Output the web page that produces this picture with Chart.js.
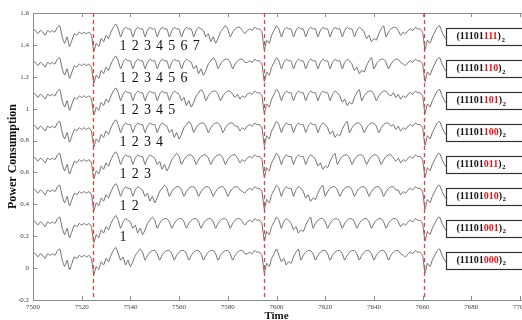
<!DOCTYPE html>
<html>

<head>
  <title>Power Consumption</title>
  <meta content="text/html;charset=utf-8" http-equiv="Content-Type">
  <script src="https://cdn.jsdelivr.net/npm/chart.js"></script>
  <style>
    html, body { margin: 0; padding: 0; overflow: hidden; background: #fff; }
    #wrap { width: 540px; height: 320px; }
  </style>
</head>

<body>
  <div id="wrap"><canvas id="myChart"></canvas></div>

  <script>
    // one sample per time unit, starting at 7500
    const startTime = 7500;
    const xTicks = [7500, 7520, 7540, 7560, 7580, 7600, 7620, 7640, 7660, 7680, 7700];
    const yTicks = [-0.2, 0, 0.2, 0.4, 0.6, 0.8, 1, 1.2, 1.4, 1.6];

    // same for every trace, 7500-7534
    const headShape = [
      0.10, 0.09, 0.07, 0.09, 0.08, 0.06, 0.09, 0.08, 0.09, 0.08,
      0.11, 0.12, 0.05, 0.01, 0.05, -0.01, 0.03, 0.07, 0.06, 0.08,
      0.07, 0.08, 0.07, 0.08, 0.06, -0.04, 0.01, -0.01, 0.04, 0.02,
      0.06, 0.04, 0.08, 0.11, 0.13
    ];
    // same for every trace, 7661-7670
    const tailShape = [-0.03, 0.03, 0.01, 0.05, 0.08, 0.11, 0.12, 0.08, 0.05, 0.03];

    // 7535-7660 for each key guess
    const body000 = [
      0.09, 0.05, 0.07, 0.02, 0.05, 0.01, 0.04, 0.08, 0.10, 0.12, 0.10,
      0.05, 0.08, 0.10, 0.11, 0.11, 0.09,
      0.05, 0.08, 0.10, 0.11, 0.11, 0.09,
      0.05, 0.08, 0.10, 0.11, 0.11, 0.09,
      0.05, 0.08, 0.10, 0.11, 0.11, 0.09,
      0.05, 0.08, 0.10, 0.11, 0.11, 0.09,
      0.05, 0.08, 0.10, 0.11, 0.11, 0.09,
      0.05, 0.08, 0.10, 0.11, 0.11, 0.09,
      0.09, 0.10, 0.09, 0.11, 0.10, 0.10, 0.08,
      -0.03, 0.03, 0.01, 0.06, 0.09, 0.12,
      0.08, 0.04, 0.06, 0.02, 0.04, 0.03, 0.07, 0.10, 0.12,
      0.05, 0.08, 0.10, 0.11, 0.11, 0.09,
      0.05, 0.08, 0.10, 0.11, 0.11, 0.09,
      0.05, 0.08, 0.10, 0.11, 0.11, 0.09,
      0.05, 0.08, 0.10, 0.11, 0.11, 0.09,
      0.05, 0.08, 0.10, 0.11, 0.11, 0.09,
      0.05, 0.08, 0.10, 0.11, 0.11, 0.09,
      0.05, 0.08, 0.10, 0.11, 0.11, 0.09,
      0.08, 0.07, 0.09, 0.10, 0.09, 0.11, 0.10, 0.10, 0.08
    ];
    const body001 = [
      0.10, 0.05, 0.09, 0.11, 0.10,
      0.09, 0.05, 0.07, 0.02, 0.05, 0.01, 0.04, 0.08, 0.10, 0.12, 0.10,
      0.05, 0.08, 0.10, 0.11, 0.11, 0.09,
      0.05, 0.08, 0.10, 0.11, 0.11, 0.09,
      0.05, 0.08, 0.10, 0.11, 0.11, 0.09,
      0.05, 0.08, 0.10, 0.11, 0.11, 0.09,
      0.05, 0.08, 0.10, 0.11, 0.11, 0.09,
      0.05, 0.08, 0.10, 0.11, 0.11, 0.09,
      0.07, 0.09, 0.10, 0.09, 0.11, 0.10, 0.10, 0.08,
      -0.03, 0.03, 0.01, 0.06, 0.09, 0.12,
      0.10, 0.05, 0.09, 0.11, 0.10,
      0.08, 0.04, 0.06, 0.02, 0.04, 0.03, 0.07, 0.10, 0.12,
      0.05, 0.08, 0.10, 0.11, 0.11, 0.09,
      0.05, 0.08, 0.10, 0.11, 0.11, 0.09,
      0.05, 0.08, 0.10, 0.11, 0.11, 0.09,
      0.05, 0.08, 0.10, 0.11, 0.11, 0.09,
      0.05, 0.08, 0.10, 0.11, 0.11, 0.09,
      0.05, 0.08, 0.10, 0.11, 0.11, 0.09,
      0.06, 0.08, 0.07, 0.09, 0.10, 0.09, 0.11, 0.10, 0.10, 0.08
    ];
    const body010 = [
      0.10, 0.05, 0.09, 0.11, 0.10,
      0.10, 0.05, 0.09, 0.11, 0.10,
      0.09, 0.05, 0.07, 0.02, 0.05, 0.01, 0.04, 0.08, 0.10, 0.12, 0.10,
      0.05, 0.08, 0.10, 0.11, 0.11, 0.09,
      0.05, 0.08, 0.10, 0.11, 0.11, 0.09,
      0.05, 0.08, 0.10, 0.11, 0.11, 0.09,
      0.05, 0.08, 0.10, 0.11, 0.11, 0.09,
      0.05, 0.08, 0.10, 0.11, 0.11, 0.09,
      0.08, 0.07, 0.09, 0.10, 0.09, 0.11, 0.10, 0.10, 0.08,
      -0.03, 0.03, 0.01, 0.06, 0.09, 0.12,
      0.10, 0.05, 0.09, 0.11, 0.10,
      0.10, 0.05, 0.09, 0.11, 0.10,
      0.08, 0.04, 0.06, 0.02, 0.04, 0.03, 0.07, 0.10, 0.12,
      0.05, 0.08, 0.10, 0.11, 0.11, 0.09,
      0.05, 0.08, 0.10, 0.11, 0.11, 0.09,
      0.05, 0.08, 0.10, 0.11, 0.11, 0.09,
      0.05, 0.08, 0.10, 0.11, 0.11, 0.09,
      0.05, 0.08, 0.10, 0.11, 0.11, 0.09,
      0.09, 0.06, 0.08, 0.07, 0.09, 0.10, 0.09, 0.11, 0.10, 0.10, 0.08
    ];
    const body011 = [
      0.10, 0.05, 0.09, 0.11, 0.10,
      0.10, 0.05, 0.09, 0.11, 0.10,
      0.10, 0.05, 0.09, 0.11, 0.10,
      0.09, 0.05, 0.07, 0.02, 0.05, 0.01, 0.04, 0.08, 0.10, 0.12, 0.10,
      0.05, 0.08, 0.10, 0.11, 0.11, 0.09,
      0.05, 0.08, 0.10, 0.11, 0.11, 0.09,
      0.05, 0.08, 0.10, 0.11, 0.11, 0.09,
      0.05, 0.08, 0.10, 0.11, 0.11, 0.09,
      0.06, 0.08, 0.07, 0.09, 0.10, 0.09, 0.11, 0.10, 0.10, 0.08,
      -0.03, 0.03, 0.01, 0.06, 0.09, 0.12,
      0.10, 0.05, 0.09, 0.11, 0.10,
      0.10, 0.05, 0.09, 0.11, 0.10,
      0.10, 0.05, 0.09, 0.11, 0.10,
      0.08, 0.04, 0.06, 0.02, 0.04, 0.03, 0.07, 0.10, 0.12,
      0.05, 0.08, 0.10, 0.11, 0.11, 0.09,
      0.05, 0.08, 0.10, 0.11, 0.11, 0.09,
      0.05, 0.08, 0.10, 0.11, 0.11, 0.09,
      0.05, 0.08, 0.10, 0.11, 0.11, 0.09,
      0.07, 0.09, 0.06, 0.08, 0.07, 0.09, 0.10, 0.09, 0.11, 0.10, 0.10, 0.08
    ];
    const body100 = [
      0.10, 0.05, 0.09, 0.11, 0.10,
      0.10, 0.05, 0.09, 0.11, 0.10,
      0.10, 0.05, 0.09, 0.11, 0.10,
      0.10, 0.05, 0.09, 0.11, 0.10,
      0.09, 0.05, 0.07, 0.02, 0.05, 0.01, 0.04, 0.08, 0.10, 0.12, 0.10,
      0.05, 0.08, 0.10, 0.11, 0.11, 0.09,
      0.05, 0.08, 0.10, 0.11, 0.11, 0.09,
      0.05, 0.08, 0.10, 0.11, 0.11, 0.09,
      0.09, 0.06, 0.08, 0.07, 0.09, 0.10, 0.09, 0.11, 0.10, 0.10, 0.08,
      -0.03, 0.03, 0.01, 0.06, 0.09, 0.12,
      0.10, 0.05, 0.09, 0.11, 0.10,
      0.10, 0.05, 0.09, 0.11, 0.10,
      0.10, 0.05, 0.09, 0.11, 0.10,
      0.10, 0.05, 0.09, 0.11, 0.10,
      0.08, 0.04, 0.06, 0.02, 0.04, 0.03, 0.07, 0.10, 0.12,
      0.05, 0.08, 0.10, 0.11, 0.11, 0.09,
      0.05, 0.08, 0.10, 0.11, 0.11, 0.09,
      0.05, 0.08, 0.10, 0.11, 0.11, 0.09,
      0.10, 0.07, 0.09, 0.06, 0.08, 0.07, 0.09, 0.10, 0.09, 0.11, 0.10, 0.10, 0.08
    ];
    const body101 = [
      0.10, 0.05, 0.09, 0.11, 0.10,
      0.10, 0.05, 0.09, 0.11, 0.10,
      0.10, 0.05, 0.09, 0.11, 0.10,
      0.10, 0.05, 0.09, 0.11, 0.10,
      0.10, 0.05, 0.09, 0.11, 0.10,
      0.09, 0.05, 0.07, 0.02, 0.05, 0.01, 0.04, 0.08, 0.10, 0.12, 0.10,
      0.05, 0.08, 0.10, 0.11, 0.11, 0.09,
      0.05, 0.08, 0.10, 0.11, 0.11, 0.09,
      0.07, 0.09, 0.06, 0.08, 0.07, 0.09, 0.10, 0.09, 0.11, 0.10, 0.10, 0.08,
      -0.03, 0.03, 0.01, 0.06, 0.09, 0.12,
      0.10, 0.05, 0.09, 0.11, 0.10,
      0.10, 0.05, 0.09, 0.11, 0.10,
      0.10, 0.05, 0.09, 0.11, 0.10,
      0.10, 0.05, 0.09, 0.11, 0.10,
      0.10, 0.05, 0.09, 0.11, 0.10,
      0.08, 0.04, 0.06, 0.02, 0.04, 0.03, 0.07, 0.10, 0.12,
      0.05, 0.08, 0.10, 0.11, 0.11, 0.09,
      0.05, 0.08, 0.10, 0.11, 0.11, 0.09,
      0.08, 0.10, 0.07, 0.09, 0.06, 0.08, 0.07, 0.09, 0.10, 0.09, 0.11, 0.10, 0.10, 0.08
    ];
    const body110 = [
      0.10, 0.05, 0.09, 0.11, 0.10,
      0.10, 0.05, 0.09, 0.11, 0.10,
      0.10, 0.05, 0.09, 0.11, 0.10,
      0.10, 0.05, 0.09, 0.11, 0.10,
      0.10, 0.05, 0.09, 0.11, 0.10,
      0.10, 0.05, 0.09, 0.11, 0.10,
      0.09, 0.05, 0.07, 0.02, 0.05, 0.01, 0.04, 0.08, 0.10, 0.12, 0.10,
      0.05, 0.08, 0.10, 0.11, 0.11, 0.09,
      0.05, 0.08, 0.10, 0.11, 0.11, 0.09,
      0.09, 0.10, 0.09, 0.11, 0.10, 0.10, 0.08,
      -0.03, 0.03, 0.01, 0.06, 0.09, 0.12,
      0.10, 0.05, 0.09, 0.11, 0.10,
      0.10, 0.05, 0.09, 0.11, 0.10,
      0.10, 0.05, 0.09, 0.11, 0.10,
      0.10, 0.05, 0.09, 0.11, 0.10,
      0.10, 0.05, 0.09, 0.11, 0.10,
      0.10, 0.05, 0.09, 0.11, 0.10,
      0.08, 0.04, 0.06, 0.02, 0.04, 0.03, 0.07, 0.10, 0.12,
      0.05, 0.08, 0.10, 0.11, 0.11, 0.09,
      0.05, 0.08, 0.10, 0.11, 0.11, 0.09,
      0.08, 0.07, 0.09, 0.10, 0.09, 0.11, 0.10, 0.10, 0.08
    ];
    const body111 = [
      0.10, 0.05, 0.09, 0.11, 0.10,
      0.10, 0.05, 0.09, 0.11, 0.10,
      0.10, 0.05, 0.09, 0.11, 0.10,
      0.10, 0.05, 0.09, 0.11, 0.10,
      0.10, 0.05, 0.09, 0.11, 0.10,
      0.10, 0.05, 0.09, 0.11, 0.10,
      0.10, 0.05, 0.09, 0.11, 0.10,
      0.09, 0.05, 0.07, 0.02, 0.05, 0.01, 0.04, 0.08, 0.10, 0.12, 0.10,
      0.05, 0.08, 0.10, 0.11, 0.11, 0.09,
      0.07, 0.09, 0.10, 0.09, 0.11, 0.10, 0.10, 0.08,
      -0.03, 0.03, 0.01, 0.06, 0.09, 0.12,
      0.10, 0.05, 0.09, 0.11, 0.10,
      0.10, 0.05, 0.09, 0.11, 0.10,
      0.10, 0.05, 0.09, 0.11, 0.10,
      0.10, 0.05, 0.09, 0.11, 0.10,
      0.10, 0.05, 0.09, 0.11, 0.10,
      0.10, 0.05, 0.09, 0.11, 0.10,
      0.10, 0.05, 0.09, 0.11, 0.10,
      0.08, 0.04, 0.06, 0.02, 0.04, 0.03, 0.07, 0.10, 0.12,
      0.05, 0.08, 0.10, 0.11, 0.11, 0.09,
      0.06, 0.08, 0.07, 0.09, 0.10, 0.09, 0.11, 0.10, 0.10, 0.08
    ];

    // rows from bottom to top
    const bodies = [body000, body001, body010, body011, body100, body101, body110, body111];
    const keyBits = ['000', '001', '010', '011', '100', '101', '110', '111'];
    const keyPrefix = '11101';
    const rowOffsets = [0, 0.2, 0.4, 0.6, 0.8, 1.0, 1.2, 1.4];
    const stepCounts = [0, 1, 2, 3, 4, 5, 6, 7];
    const stepTimes = [7537, 7542, 7547, 7552, 7557, 7562, 7567];
    const markerTimes = [7524.6, 7594.7, 7660.6];
    const boxStartTime = 7669.5;

    const serif = '"Liberation Serif", "Times New Roman", serif';

    const datasets = bodies.map((body, n) => {
      const shape = headShape.concat(body, tailShape);
      return {
        label: '(' + keyPrefix + keyBits[n] + ')2',
        data: shape.map((v, i) => ({ x: startTime + i, y: v + rowOffsets[n] })),
        borderColor: '#5a5a5a',
        borderWidth: 0.9,
        pointRadius: 0,
        tension: 0.15,
        fill: false
      };
    });

    const overlay = {
      id: 'overlay',
      afterDatasetsDraw(chart) {
        const { ctx, chartArea: a, scales: { x, y } } = chart;
        ctx.save();

        // axes frame with inward ticks
        ctx.strokeStyle = '#8c8c8c';
        ctx.lineWidth = 1;
        ctx.beginPath();
        ctx.moveTo(a.left, a.top + 0.5); ctx.lineTo(a.right + 20, a.top + 0.5);
        ctx.moveTo(a.left + 0.5, a.top); ctx.lineTo(a.left + 0.5, a.bottom);
        ctx.moveTo(a.left, a.bottom + 0.5); ctx.lineTo(a.right + 20, a.bottom + 0.5);
        xTicks.forEach(v => {
          const px = Math.round(x.getPixelForValue(v)) + 0.5;
          ctx.moveTo(px, a.top); ctx.lineTo(px, a.top + 4);
          ctx.moveTo(px, a.bottom); ctx.lineTo(px, a.bottom - 4);
        });
        yTicks.forEach(v => {
          const py = Math.round(y.getPixelForValue(v)) + 0.5;
          ctx.moveTo(a.left, py); ctx.lineTo(a.left + 4, py);
        });
        ctx.stroke();

        // red dashed markers
        ctx.strokeStyle = '#e8433e';
        ctx.lineWidth = 1.3;
        ctx.setLineDash([4, 3]);
        markerTimes.forEach(t => {
          const px = Math.round(x.getPixelForValue(t)) + 0.5;
          ctx.beginPath();
          ctx.moveTo(px, a.top); ctx.lineTo(px, a.bottom);
          ctx.stroke();
        });
        ctx.setLineDash([]);

        // step numbers under each trace
        ctx.fillStyle = '#111';
        ctx.font = '14px ' + serif;
        ctx.textAlign = 'center';
        ctx.textBaseline = 'middle';
        stepCounts.forEach((count, n) => {
          const py = y.getPixelForValue(rowOffsets[n] - 0.01);
          for (let i = 0; i < count; i++) {
            ctx.fillText(String(i + 1), x.getPixelForValue(stepTimes[i]), py);
          }
        });

        // key guess boxes
        const bx = Math.round(x.getPixelForValue(boxStartTime)) + 0.5;
        keyBits.forEach((bits, n) => {
          const cy = y.getPixelForValue(rowOffsets[n] + 0.05);
          const top = Math.round(cy - 8.5) + 0.5;
          ctx.fillStyle = '#fff';
          ctx.fillRect(bx, top, 100, 17);
          ctx.strokeStyle = '#333';
          ctx.lineWidth = 1.2;
          ctx.strokeRect(bx, top, 100, 17);

          ctx.textAlign = 'left';
          ctx.font = 'bold 10px ' + serif;
          let tx = bx + 10;
          [['(' + keyPrefix, '#111'], [bits, '#e8161b'], [')', '#111']].forEach(([s, c]) => {
            ctx.fillStyle = c;
            ctx.fillText(s, tx, cy);
            tx += ctx.measureText(s).width;
          });
          ctx.font = 'bold 7px ' + serif;
          ctx.fillStyle = '#111';
          ctx.fillText('2', tx + 0.5, cy + 3);
        });

        ctx.restore();
      }
    };

    const ctx = document.getElementById('myChart').getContext('2d');

    const myChart = new Chart(ctx, {
      type: 'line',
      data: { datasets: datasets },
      plugins: [overlay],
      options: {
        responsive: true,
        maintainAspectRatio: false,
        animation: false,
        layout: { padding: { top: 13, right: 20, left: 0, bottom: 0 } },
        plugins: {
          legend: { display: false },
          tooltip: { enabled: false }
        },
        scales: {
          x: {
            type: 'linear',
            min: 7500,
            max: 7700,
            grid: { display: false, drawTicks: false },
            border: { display: false },
            afterBuildTicks: s => { s.ticks = xTicks.map(v => ({ value: v })); },
            afterFit: s => { s.height = 20; },
            ticks: {
              callback: v => String(v),
              font: { family: serif, size: 7 },
              color: '#444',
              padding: 3,
              maxRotation: 0
            },
            title: {
              display: true,
              text: 'Time',
              font: { family: serif, size: 11, weight: 'bold' },
              color: '#111',
              padding: { top: 0, bottom: -3 }
            }
          },
          y: {
            min: -0.2,
            max: 1.6,
            grid: { display: false, drawTicks: false },
            border: { display: false },
            afterBuildTicks: s => { s.ticks = yTicks.map(v => ({ value: v })); },
            afterFit: s => { s.width = 33; },
            ticks: {
              callback: v => String(v),
              font: { family: serif, size: 7 },
              color: '#444',
              padding: 4
            },
            title: {
              display: true,
              text: 'Power Consumption',
              font: { family: serif, size: 12, weight: 'bold' },
              color: '#111',
              padding: { top: 6, bottom: 0 }
            }
          }
        }
      }
    });
  </script>
</body>

</html>
